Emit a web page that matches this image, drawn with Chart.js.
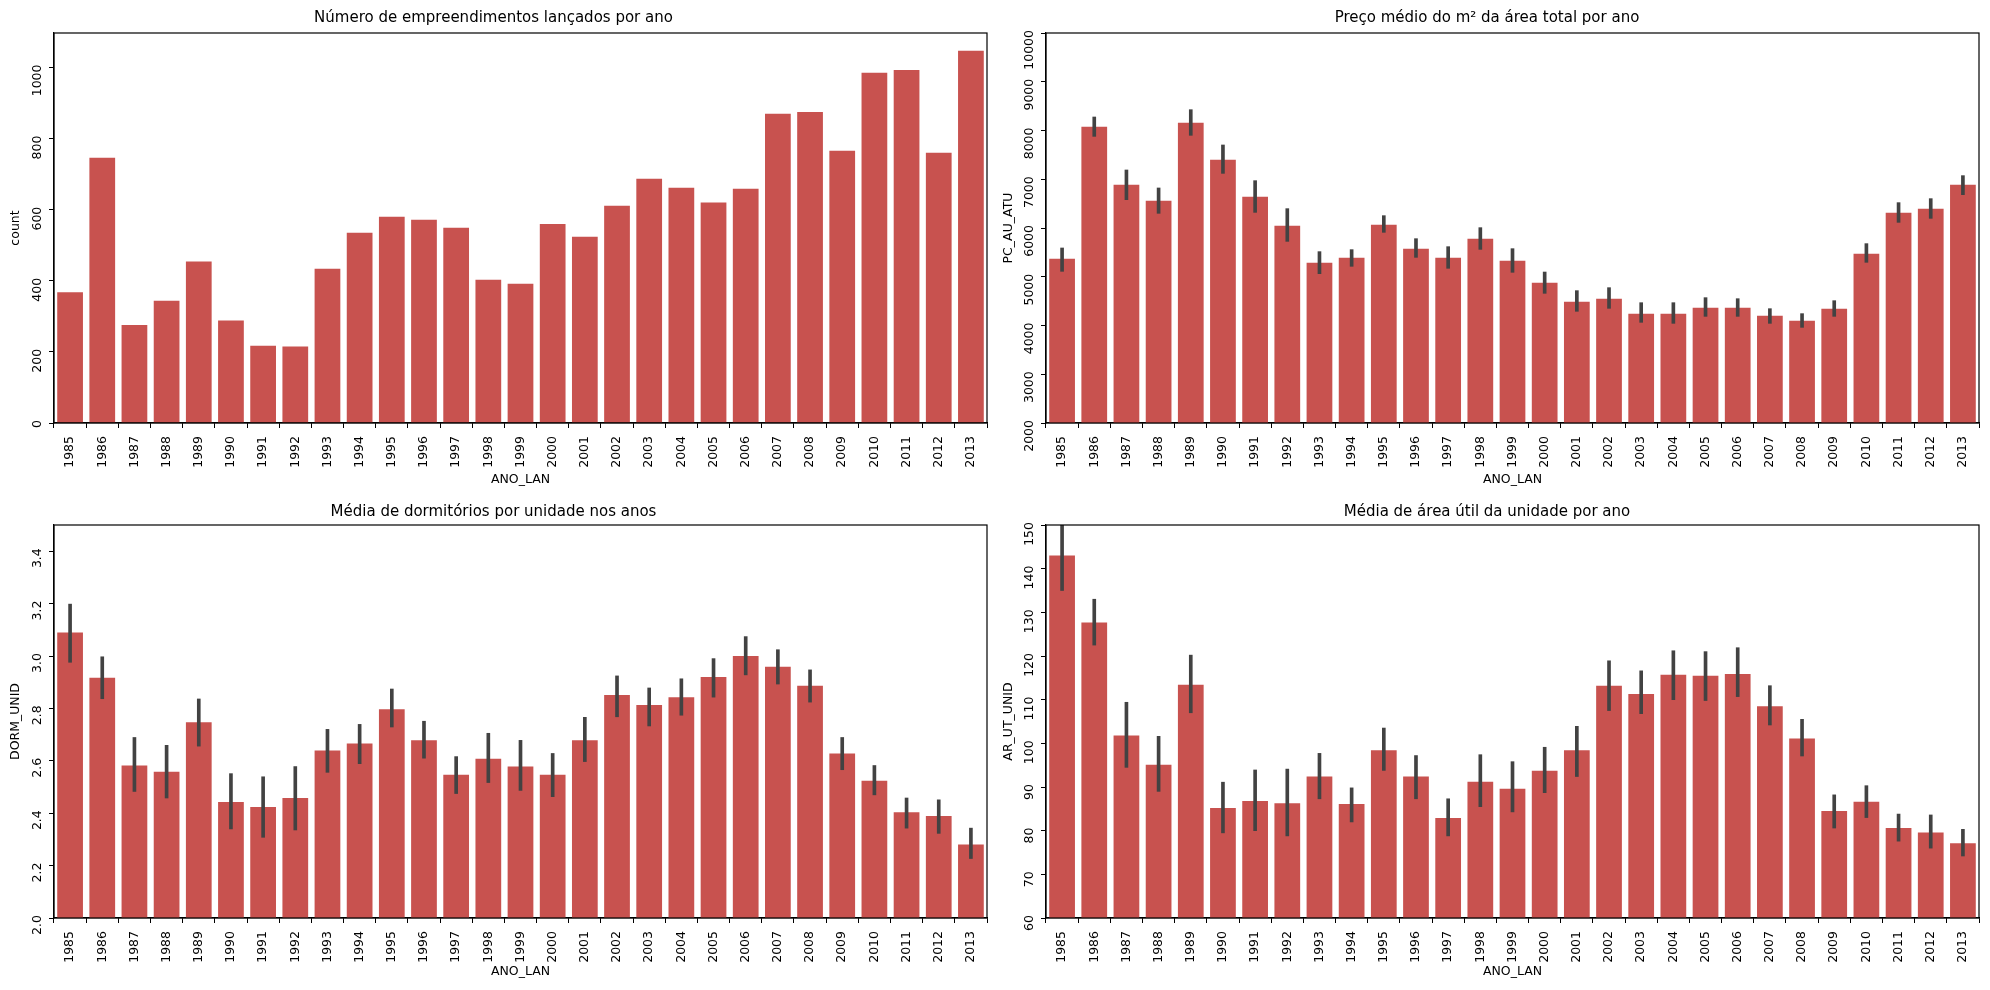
<!DOCTYPE html>
<html lang="pt">
<head>
  <meta charset="UTF-8">
  <title>Lançamentos imobiliários por ano</title>
  <style>
    body {
      margin: 0;
      background: #fff;
    }
    .panel {
      position: absolute;
      width: 995px;
      height: 495px;
    }
  </style>
</head>
<body>

<div class="panel" style="left:0;top:0"><canvas id="c1"></canvas></div>
<div class="panel" style="left:995px;top:0"><canvas id="c2"></canvas></div>
<div class="panel" style="left:0;top:495px"><canvas id="c3"></canvas></div>
<div class="panel" style="left:995px;top:495px"><canvas id="c4"></canvas></div>

<script src="https://cdn.jsdelivr.net/npm/chart.js"></script>
<script>
  // anos de lançamento
  var years = ['1985','1986','1987','1988','1989','1990','1991','1992','1993','1994',
    '1995','1996','1997','1998','1999','2000','2001','2002','2003','2004',
    '2005','2006','2007','2008','2009','2010','2011','2012','2013'];

  // número de empreendimentos
  var counts = [368, 746, 276, 344, 454, 288, 217, 215, 434, 535,
    580, 572, 549, 403, 392, 560, 524, 611, 687, 662,
    620, 659, 870, 875, 766, 985, 993, 760, 1047];

  // preço médio do m2 (PC_AU_ATU) e intervalo de confiança
  var price = [5371, 8079, 6889, 6561, 8161, 7402, 6643, 6048, 5289, 5391,
    6068, 5576, 5391, 5781, 5330, 4879, 4489, 4550, 4243, 4243,
    4366, 4366, 4202, 4099, 4345, 5474, 6315, 6397, 6889];
  var priceLo = [5111, 7880, 6581, 6301, 7901, 7121, 6321, 5726, 5063, 5214,
    5911, 5398, 5173, 5562, 5091, 4660, 4291, 4352, 4065, 4044,
    4188, 4188, 4044, 3962, 4188, 5296, 6116, 6198, 6684];
  var priceHi = [5590, 8277, 7190, 6821, 8427, 7703, 6971, 6397, 5515, 5556,
    6253, 5781, 5617, 6007, 5576, 5097, 4715, 4776, 4468, 4468,
    4571, 4550, 4345, 4243, 4509, 5679, 6520, 6602, 7074];

  // dormitórios por unidade (DORM_UNID)
  var dorm = [3.090, 2.917, 2.582, 2.558, 2.747, 2.443, 2.424, 2.458, 2.639, 2.666,
    2.797, 2.678, 2.547, 2.608, 2.578, 2.547, 2.678, 2.851, 2.813, 2.843,
    2.920, 3.000, 2.959, 2.886, 2.628, 2.524, 2.404, 2.389, 2.281];
  var dormLo = [2.976, 2.837, 2.483, 2.458, 2.656, 2.340, 2.308, 2.336, 2.556, 2.589,
    2.729, 2.610, 2.475, 2.517, 2.487, 2.463, 2.597, 2.768, 2.733, 2.774,
    2.843, 2.928, 2.893, 2.824, 2.566, 2.470, 2.343, 2.323, 2.227];
  var dormHi = [3.198, 2.997, 2.689, 2.659, 2.836, 2.551, 2.539, 2.578, 2.720, 2.739,
    2.874, 2.751, 2.616, 2.705, 2.678, 2.628, 2.766, 2.924, 2.878, 2.913,
    2.990, 3.074, 3.024, 2.947, 2.689, 2.582, 2.458, 2.451, 2.343];

  // área útil da unidade (AR_UT_UNID)
  var area = [143.0, 127.7, 101.8, 95.1, 113.4, 85.2, 86.8, 86.3, 92.4, 86.1,
    98.4, 92.4, 82.9, 91.2, 89.6, 93.7, 98.4, 113.2, 111.3, 115.7,
    115.5, 115.9, 108.5, 101.1, 84.5, 86.6, 80.6, 79.6, 77.1];
  var areaLo = [135.0, 122.5, 94.5, 89.0, 107.0, 79.5, 80.0, 78.8, 87.3, 82.0,
    93.8, 87.3, 78.8, 85.5, 84.3, 88.7, 92.4, 107.5, 106.8, 110.0,
    109.8, 110.7, 104.2, 97.1, 80.6, 83.0, 77.6, 76.0, 74.2];
  var areaHi = [151.5, 133.0, 109.4, 101.6, 120.2, 91.1, 93.9, 94.1, 97.7, 89.8,
    103.5, 97.2, 87.3, 97.4, 95.8, 99.1, 103.9, 118.9, 116.6, 121.2,
    121.0, 121.9, 113.2, 105.5, 88.2, 90.3, 83.8, 83.6, 80.3];

  Chart.defaults.font.family = "'DejaVu Sans', sans-serif";
  Chart.defaults.color = '#000';
  Chart.defaults.animation = false;

  var BAR_COLOR = '#c8524f';
  var ERR_COLOR = '#424242';

  // moldura completa em volta da área do gráfico
  var framePlugin = {
    id: 'frame',
    afterDraw: function(chart) {
      var a = chart.chartArea;
      var ctx = chart.ctx;
      ctx.save();
      ctx.strokeStyle = '#000';
      ctx.lineWidth = 1.2;
      ctx.strokeRect(a.left, a.top, a.right - a.left, a.bottom - a.top);
      ctx.restore();
    }
  };

  function pairs(lo, hi) {
    return lo.map(function(v, i) { return [v, hi[i]]; });
  }

  function makeChart(id, cfg) {
    var datasets = [{
      data: cfg.values,
      backgroundColor: BAR_COLOR,
      barPercentage: 0.8,
      categoryPercentage: 1.0,
      grouped: false,
      order: 1
    }];
    if (cfg.lo) {
      datasets.push({
        data: pairs(cfg.lo, cfg.hi),
        backgroundColor: ERR_COLOR,
        barThickness: 3,
        grouped: false,
        order: 0
      });
    }

    return new Chart(document.getElementById(id), {
      type: 'bar',
      data: { labels: years, datasets: datasets },
      options: {
        responsive: true,
        maintainAspectRatio: false,
        layout: { padding: { right: cfg.padRight } },
        plugins: {
          legend: { display: false },
          tooltip: { enabled: false },
          title: {
            display: true,
            text: cfg.title,
            font: { size: 15, weight: 'normal' },
            padding: cfg.titlePad
          }
        },
        scales: {
          x: {
            offset: true,
            grid: { drawOnChartArea: false, drawTicks: true, tickLength: 5, color: '#000' },
            border: { display: true, color: '#000', width: 1.2 },
            ticks: { minRotation: 90, maxRotation: 90, padding: 8, font: { size: 12.5 }, autoSkip: false },
            title: { display: true, text: 'ANO_LAN', font: { size: 12.5 }, padding: { top: 4, bottom: cfg.xTitleBottom } },
            afterFit: function(s) {
              s.height = 72;
              s.paddingLeft = 0;
              s.paddingRight = 0;
            }
          },
          y: {
            min: cfg.min,
            max: cfg.max,
            grid: { drawOnChartArea: false, drawTicks: true, tickLength: 5, color: '#000' },
            border: { display: true, color: '#000', width: 1.2 },
            ticks: {
              stepSize: cfg.step,
              includeBounds: false,
              minRotation: 90,
              maxRotation: 90,
              crossAlign: 'near',
              labelOffset: -3,
              padding: 11,
              font: { size: 12.5 },
              callback: cfg.fmt
            },
            title: { display: true, text: cfg.yTitle, font: { size: 12.5 }, padding: { top: cfg.yTitlePad, bottom: 0 } },
            afterFit: function(s) {
              s.width = cfg.yWidth;
              s.paddingTop = 0;
              s.paddingBottom = 0;
            }
          }
        }
      },
      plugins: [framePlugin]
    });
  }

  makeChart('c1', {
    title: 'Número de empreendimentos lançados por ano',
    values: counts,
    min: 0, max: 1097, step: 200,
    fmt: function(v) { return v; },
    yTitle: 'count', yTitlePad: 8.5, yWidth: 54,
    padRight: 8, titlePad: { top: 9, bottom: 6 }, xTitleBottom: 7.5
  });

  makeChart('c2', {
    title: 'Preço médio do m² da área total por ano',
    values: price, lo: priceLo, hi: priceHi,
    min: 2000, max: 10000, step: 1000,
    fmt: function(v) { return v; },
    yTitle: 'PC_AU_ATU', yTitlePad: 6.5, yWidth: 51,
    padRight: 11, titlePad: { top: 9, bottom: 6 }, xTitleBottom: 7.5
  });

  makeChart('c3', {
    title: 'Média de dormitórios por unidade nos anos',
    values: dorm, lo: dormLo, hi: dormHi,
    min: 2.0, max: 3.5, step: 0.2,
    fmt: function(v) { return Number(v).toFixed(1); },
    yTitle: 'DORM_UNID', yTitlePad: 8.5, yWidth: 54,
    padRight: 8, titlePad: { top: 8, bottom: 4 }, xTitleBottom: 10.5
  });

  makeChart('c4', {
    title: 'Média de área útil da unidade por ano',
    values: area, lo: areaLo, hi: areaHi,
    min: 60, max: 150, step: 10,
    fmt: function(v) { return v; },
    yTitle: 'AR_UT_UNID', yTitlePad: 6.5, yWidth: 51,
    padRight: 11, titlePad: { top: 8, bottom: 4 }, xTitleBottom: 10.5
  });
</script>

</body>
</html>
